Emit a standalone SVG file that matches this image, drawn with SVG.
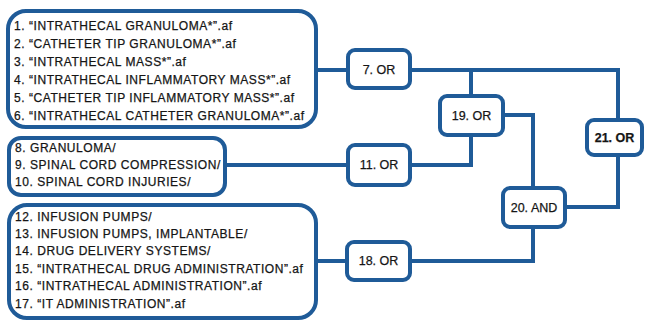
<svg xmlns="http://www.w3.org/2000/svg" width="646" height="322" viewBox="0 0 646 322">
<style>
.box{fill:#fff;stroke:#1f5b98;stroke-width:4}
.ln{fill:none;stroke:#1f5b98;stroke-width:4;stroke-linejoin:miter}
.t{font-family:"Liberation Sans",Arial,sans-serif;font-size:12px;letter-spacing:0.55px;fill:#151515;stroke:#151515;stroke-width:0.25}
.n{font-family:"Liberation Sans",Arial,sans-serif;font-size:12.5px;fill:#151515;stroke:#151515;stroke-width:0.25;text-anchor:middle}
</style>
<rect width="646" height="322" fill="#fff"/>
<g id="connectors">
<path class="ln" d="M316 70H348"/>
<path class="ln" d="M410 70H618V120"/>
<path class="ln" d="M471 70V96"/>
<path class="ln" d="M225 165H348"/>
<path class="ln" d="M410 165H471V135"/>
<path class="ln" d="M503 115H533V188"/>
<path class="ln" d="M618 155V207H565"/>
<path class="ln" d="M533 227V261H410"/>
<path class="ln" d="M316 261H347"/>
</g>
<g id="box1">
<rect class="box" x="8" y="11" width="308" height="116" rx="18"/>
<text class="t" x="14" y="30">1. “INTRATHECAL GRANULOMA*”.af</text>
<text class="t" x="14" y="48">2. “CATHETER TIP GRANULOMA*”.af</text>
<text class="t" x="14" y="66">3. “INTRATHECAL MASS*”.af</text>
<text class="t" x="14" y="84">4. “INTRATHECAL INFLAMMATORY MASS*”.af</text>
<text class="t" x="14" y="102">5. “CATHETER TIP INFLAMMATORY MASS*”.af</text>
<text class="t" x="14" y="120">6. “INTRATHECAL CATHETER GRANULOMA*”.af</text>
</g>
<g id="box2">
<rect class="box" x="9" y="138" width="216" height="57" rx="12"/>
<text class="t" x="15" y="152">8. GRANULOMA/</text>
<text class="t" x="15" y="169">9. SPINAL CORD COMPRESSION/</text>
<text class="t" x="15" y="186">10. SPINAL CORD INJURIES/</text>
</g>
<g id="box3">
<rect class="box" x="9" y="205" width="307" height="113" rx="18"/>
<text class="t" x="15" y="221">12. INFUSION PUMPS/</text>
<text class="t" x="15" y="238">13. INFUSION PUMPS, IMPLANTABLE/</text>
<text class="t" x="15" y="255">14. DRUG DELIVERY SYSTEMS/</text>
<text class="t" x="15" y="273">15. “INTRATHECAL DRUG ADMINISTRATION”.af</text>
<text class="t" x="15" y="290">16. “INTRATHECAL ADMINISTRATION”.af</text>
<text class="t" x="15" y="308">17. “IT ADMINISTRATION”.af</text>
</g>
<g id="n7">
<rect class="box" x="348" y="50" width="62" height="38" rx="7"/>
<text class="n" x="379" y="74">7. OR</text>
</g>
<g id="n11">
<rect class="box" x="348" y="145" width="62" height="40" rx="7"/>
<text class="n" x="379" y="169">11. OR</text>
</g>
<g id="n19">
<rect class="box" x="440" y="96" width="63" height="39" rx="7"/>
<text class="n" x="471.5" y="120">19. OR</text>
</g>
<g id="n18">
<rect class="box" x="347" y="242" width="63" height="38" rx="7"/>
<text class="n" x="378.5" y="265">18. OR</text>
</g>
<g id="n20">
<rect class="box" x="503" y="188" width="62" height="39" rx="7"/>
<text class="n" x="534" y="212">20. AND</text>
</g>
<g id="n21">
<rect class="box" x="587" y="120" width="55" height="35" rx="7"/>
<text class="n" x="614.5" y="142" font-weight="bold">21. OR</text>
</g>
</svg>
